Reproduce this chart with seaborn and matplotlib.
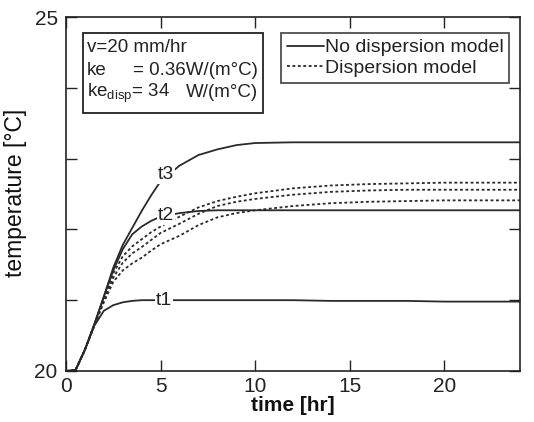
import numpy as np
import pandas as pd
import matplotlib
matplotlib.use("Agg")
import matplotlib.pyplot as plt
from matplotlib.lines import Line2D
from matplotlib.patches import Rectangle
import seaborn as sns

# time grid [hr]
time_hr = [0, 0.5, 1, 1.5, 2, 2.5, 3, 3.5, 4, 4.5, 5, 6, 7, 8, 9, 10,
           12, 14, 16, 18, 20, 22, 24]

# no dispersion model
t1_nodisp = [20.0, 20.01, 20.3, 20.64, 20.85, 20.93, 20.97, 20.99, 21.0, 21.0, 21.0,
             21.0, 21.0, 21.0, 21.0, 21.0, 21.0, 20.99, 20.99, 20.99, 20.98, 20.98, 20.98]
t2_nodisp = [20.0, 20.01, 20.3, 20.66, 21.05, 21.42, 21.72, 21.93, 22.04, 22.12, 22.18,
             22.23, 22.26, 22.27, 22.27, 22.27, 22.27, 22.27, 22.27, 22.27, 22.27, 22.27, 22.27]
t3_nodisp = [20.0, 20.01, 20.3, 20.66, 21.05, 21.46, 21.78, 22.02, 22.26, 22.48, 22.68,
             22.9, 23.05, 23.13, 23.19, 23.22, 23.23, 23.23, 23.23, 23.23, 23.23, 23.23, 23.23]

# dispersion model
d_top = [20.0, 20.01, 20.3, 20.66, 21.02, 21.38, 21.62, 21.76, 21.86, 21.96, 22.04,
         22.18, 22.31, 22.4, 22.46, 22.51, 22.58, 22.62, 22.64, 22.65, 22.66, 22.66, 22.66]
d_mid = [20.0, 20.01, 20.3, 20.65, 21.0, 21.32, 21.53, 21.66, 21.75, 21.85, 21.95,
         22.08, 22.22, 22.33, 22.39, 22.43, 22.49, 22.53, 22.55, 22.56, 22.56, 22.56, 22.56]
d_low = [20.0, 20.01, 20.3, 20.64, 20.97, 21.26, 21.42, 21.52, 21.6, 21.7, 21.79,
         21.91, 22.06, 22.17, 22.23, 22.27, 22.33, 22.37, 22.39, 22.4, 22.41, 22.41, 22.41]

curve_labels = ["t1", "t2", "t3"]
label_pos = [(5.2, 21.0), (5.3, 22.2), (5.3, 22.77)]

rows = []
for name, vals, model in [("t1", t1_nodisp, "No dispersion model"),
                          ("t2", t2_nodisp, "No dispersion model"),
                          ("t3", t3_nodisp, "No dispersion model"),
                          ("d1", d_top, "Dispersion model"),
                          ("d2", d_mid, "Dispersion model"),
                          ("d3", d_low, "Dispersion model")]:
    for t, v in zip(time_hr, vals):
        rows.append({"time": t, "temp": v, "curve": name, "model": model})
df = pd.DataFrame(rows)

sns.set_style("ticks")
plt.rcParams["font.family"] = ["Liberation Sans", "DejaVu Sans"]
plt.rcParams["mathtext.fontset"] = "custom"
plt.rcParams["mathtext.rm"] = "Liberation Sans"
plt.rcParams["mathtext.it"] = "Liberation Sans:italic"

fig = plt.figure(figsize=(5.34, 4.22), dpi=100)
ax = fig.add_axes([0.1236, 0.1209, 0.8502, 0.8388])

line_color = "#2a2a2a"
dotted = (0, (1.6, 1.4))
sns.lineplot(data=df[df.model == "No dispersion model"], x="time", y="temp",
             units="curve", estimator=None, color=line_color, lw=1.3, ax=ax,
             sort=False)
sns.lineplot(data=df[df.model == "Dispersion model"], x="time", y="temp",
             units="curve", estimator=None, color=line_color, lw=1.3, ax=ax,
             sort=False)
for ln in ax.lines[3:]:
    ln.set_linestyle(dotted)

for lab, (x, y) in zip(curve_labels, label_pos):
    ax.text(x, y, lab, fontsize=14, ha="center", va="center", color="#222",
            bbox=dict(facecolor="white", edgecolor="none", pad=0.6), zorder=5)

ax.set_xlim(0, 24)
ax.set_ylim(20, 25)
ax.set_xticks([0, 5, 10, 15, 20])
ax.set_yticks([20, 21, 22, 23, 24, 25])
ax.set_yticklabels(["20", "", "", "", "", "25"])
ax.tick_params(direction="in", length=8, width=1, top=True, right=True,
               labelsize=15, colors="#222")
ax.tick_params(axis="y", pad=6)
ax.tick_params(axis="x", pad=4)
for sp in ax.spines.values():
    sp.set_visible(True)
    sp.set_linewidth(1.2)
    sp.set_color("#222")

ax.set_xlabel("time [hr]", fontsize=15, fontweight="bold", labelpad=0, color="#111")
ax.set_ylabel("temperature [°C]", fontsize=16.5, color="#111")
ax.yaxis.set_label_coords(-0.086, 0.503)

# parameter box
ax.add_patch(Rectangle((0.0374, 0.729), 0.397, 0.226, transform=ax.transAxes,
                       facecolor="white", edgecolor="#222", linewidth=1.3, zorder=6))
info_left = [
    (0.046, 0.901, "v=20 mm/hr"),
    (0.046, 0.836, "ke"),
    (0.046, 0.774, "ke$_{\\mathrm{disp}}$= 34"),
]
info_right = [
    (0.423, 0.836, "= 0.36W/(m°C)"),
    (0.423, 0.774, "W/(m°C)"),
]
for x, y, s in info_left:
    ax.text(x, y, s, transform=ax.transAxes, fontsize=13.5, va="baseline",
            ha="left", color="#222", zorder=7)
for x, y, s in info_right:
    ax.text(x, y, s, transform=ax.transAxes, fontsize=13.5, va="baseline",
            ha="right", color="#222", zorder=7)

handles = [Line2D([], [], color=line_color, lw=1.3),
           Line2D([], [], color=line_color, lw=1.3, linestyle=dotted)]
leg = ax.legend(handles, ["No dispersion model", "Dispersion model"],
                loc="upper right", bbox_to_anchor=(0.976, 0.955), fontsize=14,
                frameon=True, fancybox=False, handlelength=1.9,
                handletextpad=0.05, borderpad=0.3, labelspacing=0.15,
                borderaxespad=0)
leg.get_frame().set_edgecolor("#222")
leg.get_frame().set_linewidth(1.3)
for t in leg.get_texts():
    t.set_color("#222")

fig.savefig("out.png", dpi=100)
